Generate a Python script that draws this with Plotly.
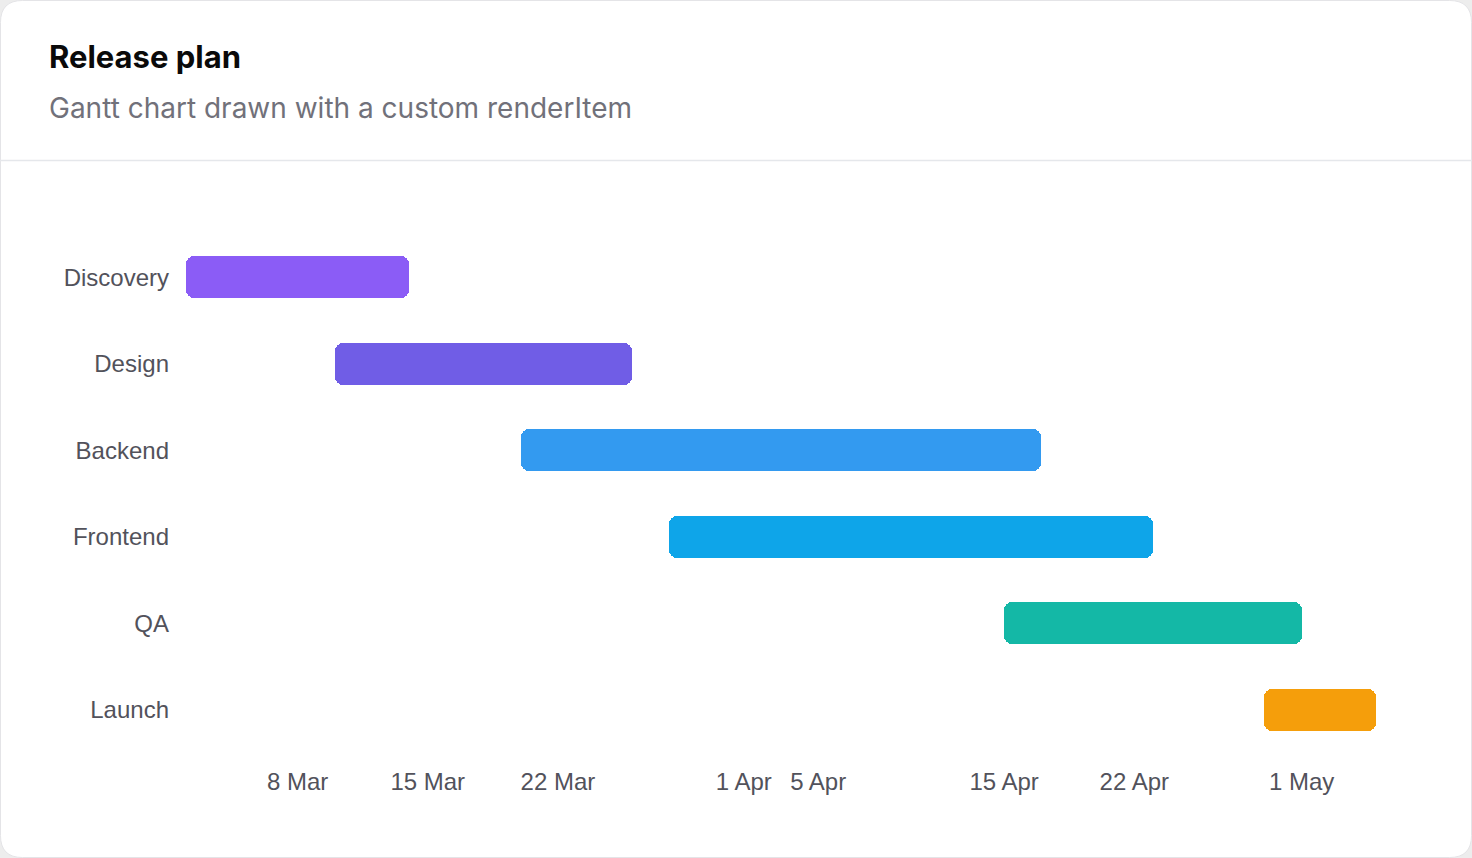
import plotly.graph_objects as go
import pandas as pd

# ---- data ----
tasks = ["Discovery", "Design", "Backend", "Frontend", "QA", "Launch"]
starts = ["2024-03-02", "2024-03-10", "2024-03-20", "2024-03-28", "2024-04-15", "2024-04-29"]
ends = ["2024-03-14", "2024-03-26", "2024-04-17", "2024-04-23", "2024-05-01", "2024-05-05"]
colors = ["#8b5cf6", "#705de6", "#339af0", "#0ea5e9", "#14b8a6", "#f59e0b"]
tick_dates = ["2024-03-08", "2024-03-15", "2024-03-22", "2024-04-01", "2024-04-05",
              "2024-04-15", "2024-04-22", "2024-05-01"]
tick_labels = ["8 Mar", "15 Mar", "22 Mar", "1 Apr", "5 Apr", "15 Apr", "22 Apr", "1 May"]
x_min, x_max = "2024-03-02", "2024-05-05"

# ---- layout geometry ----
W, H = 1472, 858
L, R, T, B = 186, 96, 234, 105
pw, ph = W - L - R, H - T - B


def px(x):
    return (x - L) / pw


def py(y):
    return (H - B - y) / ph


durations = [(pd.Timestamp(e) - pd.Timestamp(s)).total_seconds() * 1000 for s, e in zip(starts, ends)]

fig = go.Figure()
fig.add_trace(go.Bar(
    y=tasks,
    x=durations,
    base=starts,
    orientation="h",
    width=0.48,
    marker=dict(color=colors, cornerradius=8, line=dict(width=0)),
    hoverinfo="skip",
    showlegend=False,
))

# rounded card background
x0, x1, y0, y1, r = 0.5, W - 0.5, 0.5, H - 0.5, 22
path = (
    f"M {px(x0 + r)},{py(y0)} L {px(x1 - r)},{py(y0)} "
    f"Q {px(x1)},{py(y0)} {px(x1)},{py(y0 + r)} "
    f"L {px(x1)},{py(y1 - r)} Q {px(x1)},{py(y1)} {px(x1 - r)},{py(y1)} "
    f"L {px(x0 + r)},{py(y1)} Q {px(x0)},{py(y1)} {px(x0)},{py(y1 - r)} "
    f"L {px(x0)},{py(y0 + r)} Q {px(x0)},{py(y0)} {px(x0 + r)},{py(y0)} Z"
)
shapes = [
    dict(type="path", path=path, xref="paper", yref="paper", layer="below",
         fillcolor="#ffffff", line=dict(color="#e4e4e7", width=1)),
    dict(type="line", xref="paper", yref="paper", x0=px(0), x1=px(W), y0=py(160.5), y1=py(160.5),
         line=dict(color="#e5e7eb", width=1.5), layer="below"),
]

annotations = [
    dict(text="Release plan", xref="paper", yref="paper", x=px(47), y=py(56),
         xanchor="left", yanchor="middle", showarrow=False,
         font=dict(family="Inter", size=31, color="#0a0a0a", weight=700)),
    dict(text="Gantt chart drawn with a custom renderItem", xref="paper", yref="paper",
         x=px(47), y=py(108), xanchor="left", yanchor="middle", showarrow=False,
         font=dict(family="Inter", size=28, color="#71717a")),
]

fig.update_layout(
    width=W, height=H,
    margin=dict(l=L, r=R, t=T, b=B),
    paper_bgcolor="#ededed",
    plot_bgcolor="rgba(0,0,0,0)",
    shapes=shapes,
    annotations=annotations,
    bargap=0,
    xaxis=dict(
        type="date", range=[x_min, x_max], showgrid=False, zeroline=False, showline=False,
        tickmode="array", tickvals=tick_dates, ticktext=tick_labels, ticks="",
        tickfont=dict(family="Liberation Sans, Arial, sans-serif", size=24, color="#52525b"),
        ticklabelstandoff=12, fixedrange=True,
    ),
    yaxis=dict(
        type="category", categoryorder="array", categoryarray=tasks, autorange=False,
        range=[len(tasks) - 0.5, -0.5], showgrid=False, zeroline=False, showline=False,
        ticks="", tickfont=dict(family="Liberation Sans, Arial, sans-serif", size=24, color="#52525b"),
        ticklabelstandoff=16, fixedrange=True,
    ),
)

fig.write_html("out.html", config={"displayModeBar": False},
               post_script="document.body.style.margin='0';document.body.style.overflow='hidden';")
